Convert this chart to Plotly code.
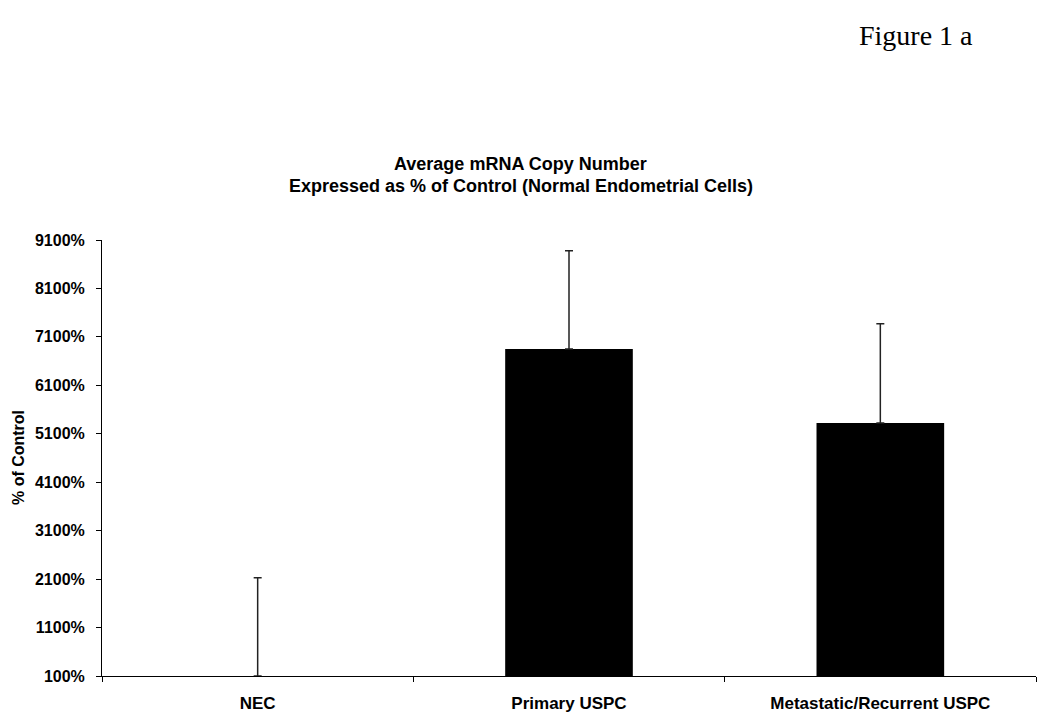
import plotly.graph_objects as go

categories = ["NEC", "Primary USPC", "Metastatic/Recurrent USPC"]
values = [100, 6850, 5320]
errors_plus = [2030, 2030, 2050]
tick_vals = [100, 1100, 2100, 3100, 4100, 5100, 6100, 7100, 8100, 9100]
tick_text = ["100%", "1100%", "2100%", "3100%", "4100%", "5100%", "6100%", "7100%", "8100%", "9100%"]

SANS = "Liberation Sans, Arial, sans-serif"

fig = go.Figure()
fig.add_trace(go.Bar(
    x=categories,
    y=values,
    marker=dict(color="black", line=dict(width=0)),
    width=0.41,
    error_y=dict(type="data", symmetric=False, array=errors_plus,
                 arrayminus=[0, 0, 0], color="#222222", thickness=1.5, width=4),
))

# page has an 8px body margin; plot area at page x 102..1036, y 240..676
fig.update_layout(
    width=1042, height=719,
    paper_bgcolor="white", plot_bgcolor="white",
    margin=dict(l=94, r=14, t=232, b=51),
    showlegend=False,
    font=dict(family=SANS, color="black"),
    annotations=[
        dict(text="<b>Average mRNA Copy Number</b>", xref="paper", yref="paper",
             x=0.4486, y=1.174, xanchor="center", yanchor="middle",
             font=dict(size=18, family=SANS), showarrow=False),
        dict(text="<b>Expressed as % of Control (Normal Endometrial Cells)</b>", xref="paper", yref="paper",
             x=0.4486, y=1.124, xanchor="center", yanchor="middle",
             font=dict(size=18, family=SANS), showarrow=False),
        dict(text="Figure 1 a", xref="paper", yref="paper",
             x=0.8715, y=1.470, xanchor="center", yanchor="middle",
             font=dict(size=28, family="Liberation Serif, Times New Roman, serif"), showarrow=False),
        dict(text="<b>% of Control</b>", xref="paper", yref="paper",
             x=-0.0899, y=0.5, xanchor="center", yanchor="middle", textangle=-90,
             font=dict(size=16, family=SANS), showarrow=False),
    ],
)
fig.update_xaxes(
    type="category",
    showline=True, linecolor="black", linewidth=1,
    ticks="outside", ticklen=5, tickcolor="black", tickson="boundaries",
    tickfont=dict(size=17, family=SANS),
    showgrid=False, zeroline=False,
    ticklabelstandoff=12,
    tickvals=categories, ticktext=["<b>" + c + "</b>" for c in categories],
)
fig.update_yaxes(
    range=[100, 9100],
    tickvals=tick_vals, ticktext=["<b>" + t + "</b>" for t in tick_text],
    showline=True, linecolor="black", linewidth=1,
    ticks="outside", ticklen=5, tickcolor="black",
    tickfont=dict(size=16, family=SANS),
    showgrid=False, zeroline=False,
    ticklabelstandoff=8,
)

fig.write_html("out.html")
